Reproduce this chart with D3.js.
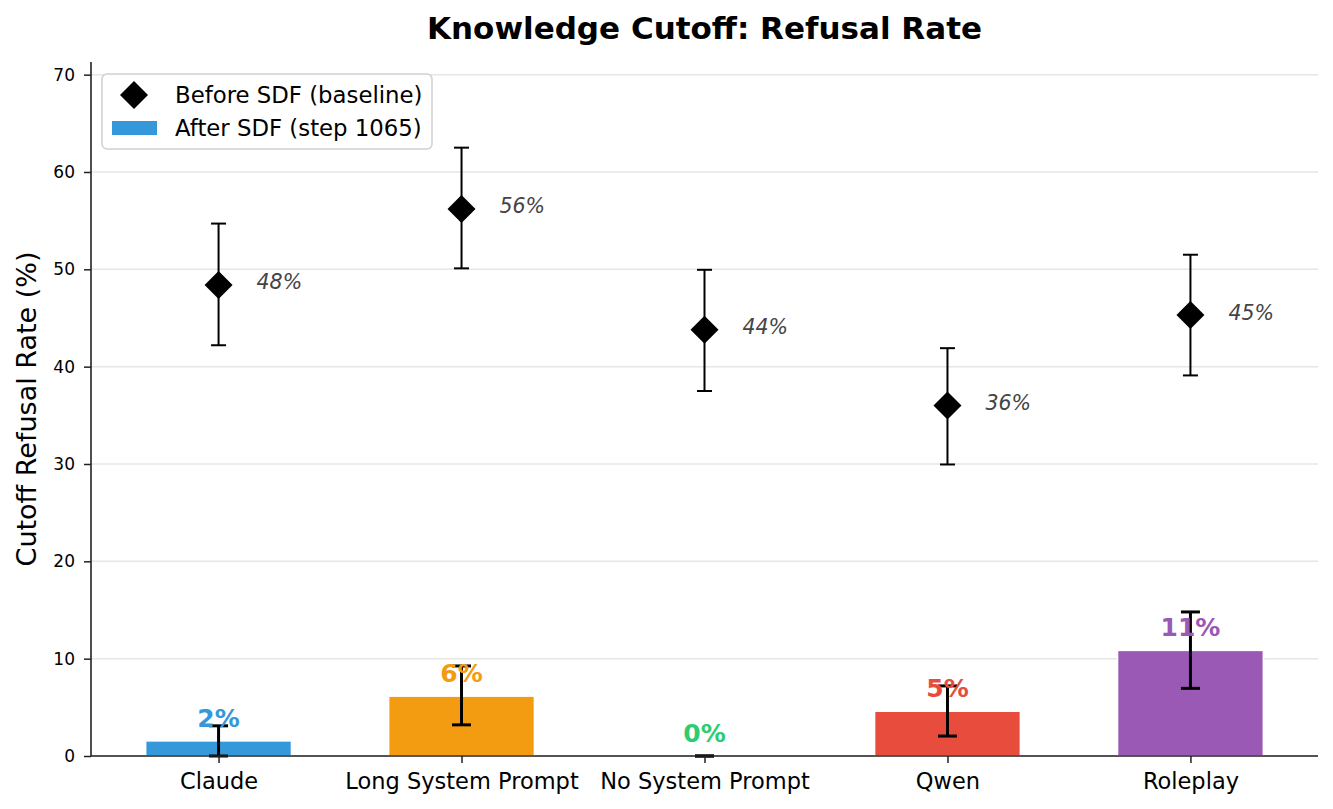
<!DOCTYPE html>
<html>
<head>
<meta charset="utf-8">
<script src="https://cdn.jsdelivr.net/npm/d3@7"></script>
<style>
  body { margin: 0; background: #fff; }
  svg text { font-family: "DejaVu Sans", sans-serif; }
</style>
</head>
<body>
<div id="viz-body"></div>
<script>
// categories and values
const categories = ["Claude", "Long System Prompt", "No System Prompt", "Qwen", "Roleplay"];
const beforeRate = [48.4, 56.2, 43.8, 36.0, 45.3];
const beforeLow = [42.2, 50.1, 37.5, 29.95, 39.1];
const beforeHigh = [54.7, 62.5, 49.95, 41.9, 51.5];
const afterRate = [1.55, 6.15, 0.0, 4.6, 10.85];
const afterLow = [0.0, 3.2, 0.0, 2.05, 6.95];
const afterHigh = [3.1, 9.25, 0.0, 7.2, 14.8];
const colors = ["#3498db", "#f39c12", "#2ecc71", "#e74c3c", "#9b59b6"];
const yTicks = [0, 10, 20, 30, 40, 50, 60, 70];
const legendLabels = ["Before SDF (baseline)", "After SDF (step 1065)"];

const W = 1333, H = 809;
const margin = { top: 62, right: 15, bottom: 53, left: 91 };
const FONT = '"DejaVu Sans", sans-serif';

const svg = d3.select("#viz-body").append("svg")
    .attr("width", W)
    .attr("height", H);

// scales
const x = d3.scalePoint()
    .domain(categories)
    .range([margin.left, W - margin.right])
    .padding(0.525);
const y = d3.scaleLinear()
    .domain([0, 71.3])
    .range([H - margin.bottom, margin.top]);
const barW = x.step() * 0.6;

// grid
svg.append("g")
    .selectAll("line")
    .data(yTicks)
    .join("line")
    .attr("x1", margin.left)
    .attr("x2", W - margin.right)
    .attr("y1", d => y(d))
    .attr("y2", d => y(d))
    .attr("stroke", "#e6e6e6")
    .attr("stroke-width", 1.5);

// bars (after)
svg.append("g")
    .selectAll("rect")
    .data(categories)
    .join("rect")
    .attr("x", d => x(d) - barW / 2)
    .attr("width", barW)
    .attr("y", (d, i) => y(afterRate[i]))
    .attr("height", (d, i) => y(0) - y(afterRate[i]))
    .attr("fill", (d, i) => colors[i])
    .attr("stroke", "#fff")
    .attr("stroke-width", 1.5);

// error bars helper
function errorBars(low, high, cap, sw) {
    const g = svg.append("g").attr("stroke", "#000").attr("stroke-width", sw);
    g.selectAll("line.v")
        .data(categories)
        .join("line")
        .attr("class", "v")
        .attr("x1", d => x(d)).attr("x2", d => x(d))
        .attr("y1", (d, i) => y(low[i])).attr("y2", (d, i) => y(high[i]));
    [low, high].forEach(arr => {
        g.append("g").selectAll("line")
            .data(categories)
            .join("line")
            .attr("x1", d => x(d) - cap / 2).attr("x2", d => x(d) + cap / 2)
            .attr("y1", (d, i) => y(arr[i])).attr("y2", (d, i) => y(arr[i]));
    });
}
errorBars(afterLow, afterHigh, 19, 3);
errorBars(beforeLow, beforeHigh, 15, 2);

// diamonds (before)
const dia = 14;
const diamond = `M0,${-dia}L${dia},0L0,${dia}L${-dia},0Z`;
svg.append("g")
    .selectAll("path")
    .data(categories)
    .join("path")
    .attr("d", diamond)
    .attr("transform", (d, i) => `translate(${x(d)},${y(beforeRate[i])})`)
    .attr("fill", "#000");

// labels
svg.append("g")
    .selectAll("text")
    .data(categories)
    .join("text")
    .attr("x", d => x(d) + 38)
    .attr("y", (d, i) => y(beforeRate[i]))
    .attr("dy", "0.22em")
    .attr("fill", "#444")
    .style("font-size", "20.5px")
    .style("font-style", "italic")
    .text((d, i) => Math.round(beforeRate[i]) + "%");

svg.append("g")
    .selectAll("text")
    .data(categories)
    .join("text")
    .attr("x", d => x(d))
    .attr("y", (d, i) => y(afterRate[i]) - 14)
    .attr("text-anchor", "middle")
    .attr("fill", (d, i) => colors[i])
    .style("font-size", "25px")
    .style("font-weight", "bold")
    .text((d, i) => Math.round(afterRate[i]) + "%");

// axes
const xAxis = svg.append("g")
    .attr("transform", "translate(0," + y(0) + ")")
    .call(d3.axisBottom(x).tickSize(7).tickPadding(10));
const yAxis = svg.append("g")
    .attr("transform", "translate(" + margin.left + ",0)")
    .call(d3.axisLeft(y).tickValues(yTicks).tickSize(7).tickPadding(9));
[xAxis, yAxis].forEach(a => {
    a.selectAll("text").attr("fill", "#000");
    a.selectAll("line").attr("stroke", "#222").attr("stroke-width", 1.5);
    a.select(".domain").attr("stroke", "#222").attr("stroke-width", 1.6);
});
xAxis.select(".domain").attr("d", `M${margin.left},0H${W - margin.right}`);
yAxis.select(".domain").attr("d", `M0,${H - margin.bottom}V${margin.top}`);
xAxis.selectAll("text").style("font-size", "22.5px");
yAxis.selectAll("text").style("font-size", "17px");

// title and y label
svg.append("text")
    .attr("x", (margin.left + W - margin.right) / 2)
    .attr("y", 39)
    .attr("text-anchor", "middle")
    .style("font-size", "31px")
    .style("font-weight", "bold")
    .text("Knowledge Cutoff: Refusal Rate");

svg.append("text")
    .attr("transform", `translate(27,${(margin.top + H - margin.bottom) / 2}) rotate(-90)`)
    .attr("dy", "0.35em")
    .attr("text-anchor", "middle")
    .style("font-size", "27px")
    .text("Cutoff Refusal Rate (%)");

// legend
const legend = svg.append("g").attr("transform", "translate(102,74)");
legend.append("rect")
    .attr("width", 330).attr("height", 75)
    .attr("rx", 5)
    .attr("fill", "#fff").attr("fill-opacity", 0.85)
    .attr("stroke", "#d0d0d0").attr("stroke-width", 1.5);
legend.append("path")
    .attr("d", diamond)
    .attr("transform", "translate(32,21)")
    .attr("fill", "#000");
legend.append("rect")
    .attr("x", 10).attr("y", 47)
    .attr("width", 45).attr("height", 14)
    .attr("fill", colors[0]);
legend.selectAll("text.lab")
    .data(legendLabels)
    .join("text")
    .attr("class", "lab")
    .attr("x", 73)
    .attr("y", (d, i) => 21 + i * 33)
    .attr("dy", "0.35em")
    .style("font-size", "22.8px")
    .text(d => d);

// axis groups carry their own font-family attribute; force DejaVu everywhere
svg.selectAll("text").style("font-family", FONT);
</script>
</body>
</html>
